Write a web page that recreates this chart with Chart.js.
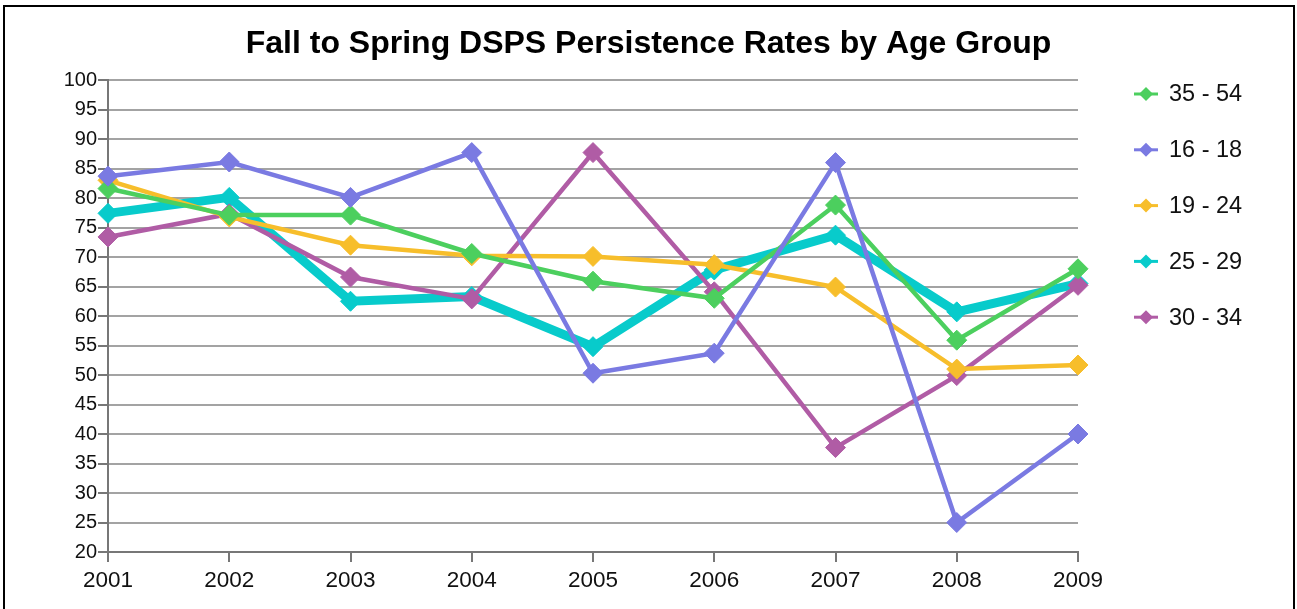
<!DOCTYPE html>
<html>
<head>
<meta charset="utf-8">
<script src="https://cdn.jsdelivr.net/npm/chart.js@4.4.1/dist/chart.umd.min.js"></script>
<style>
  html, body { margin: 0; padding: 0; background: #fff; }
  #wrap { position: relative; width: 1297px; height: 609px; overflow: hidden; }
  #frame { position: absolute; left: 3px; top: 5px; width: 1292px; height: 700px; border: 2px solid #000; box-sizing: border-box; pointer-events: none; }
  canvas { position: absolute; left: 0; top: 0; }
</style>
</head>
<body>
<div id="wrap">
  <canvas id="c" width="1297" height="609"></canvas>
  <div id="frame"></div>
</div>
<script>
const years = ['2001','2002','2003','2004','2005','2006','2007','2008','2009'];
const yTicks = [20,25,30,35,40,45,50,55,60,65,70,75,80,85,90,95,100];
const seriesNames = ['35 - 54','16 - 18','19 - 24','25 - 29','30 - 34'];
const age35to54 = [81.6, 77.1, 77.1, 70.6, 65.9, 63.0, 78.8, 55.9, 68.0];
const age16to18 = [83.7, 86.1, 80.1, 87.7, 50.3, 53.7, 86.0, 25.0, 40.0];
const age19to24 = [83.0, 76.8, 72.0, 70.2, 70.1, 68.7, 64.9, 51.0, 51.7];
const age25to29 = [77.4, 80.1, 62.5, 63.3, 54.8, 67.8, 73.7, 60.7, 65.5];
const age30to34 = [73.4, 77.3, 66.6, 62.9, 87.7, 64.1, 37.7, 49.9, 65.2];
const colors = ['#4ccf5e', '#7a7ae2', '#f7be2b', '#08cbcb', '#b05ca5'];

const FONT = '"Liberation Sans", Arial, sans-serif';
const values = [age35to54, age16to18, age19to24, age25to29, age30to34];
const widths = [4.5, 4.5, 4.5, 9, 4.5];
const order = [1, 0, 2, 4, 3];
const datasets = values.map((v, i) => ({
  label: seriesNames[i],
  data: v,
  borderColor: colors[i],
  backgroundColor: colors[i],
  borderWidth: widths[i],
  pointStyle: 'rectRot',
  pointRadius: 10,
  pointBorderWidth: 1,
  pointHoverRadius: 10,
  tension: 0,
  order: order[i],
  yAxisID: 'y'
}));

const customLegend = {
  id: 'customLegend',
  afterDraw(chart) {
    const ctx = chart.ctx;
    ctx.save();
    seriesNames.forEach((name, i) => {
      const y = 94 + i * 55.8;
      ctx.strokeStyle = colors[i];
      ctx.lineWidth = 3;
      ctx.beginPath();
      ctx.moveTo(1134, y);
      ctx.lineTo(1158, y);
      ctx.stroke();
      ctx.fillStyle = colors[i];
      ctx.beginPath();
      ctx.moveTo(1146, y - 7);
      ctx.lineTo(1153, y);
      ctx.lineTo(1146, y + 7);
      ctx.lineTo(1139, y);
      ctx.closePath();
      ctx.fill();
      ctx.fillStyle = '#111';
      ctx.font = '23.5px ' + FONT;
      ctx.textBaseline = 'middle';
      ctx.textAlign = 'left';
      ctx.fillText(name, 1169, y + 1);
    });
    ctx.restore();
  }
};

new Chart(document.getElementById('c'), {
  type: 'line',
  data: { labels: years, datasets },
  options: {
    responsive: false,
    animation: false,
    events: [],
    layout: { padding: { left: 0, right: 0, top: 4, bottom: 0 } },
    plugins: {
      legend: { display: false },
      tooltip: { enabled: false },
      title: {
        display: true,
        text: 'Fall to Spring DSPS Persistence Rates by Age Group',
        color: '#000',
        font: { family: FONT, size: 32, weight: 'bold', lineHeight: 1.2 },
        padding: { top: 21, bottom: 16.6 }
      }
    },
    scales: {
      x: {
        offset: false,
        grid: { display: true, drawOnChartArea: false, drawTicks: true, tickLength: 10, color: '#777', lineWidth: 2 },
        border: { display: true, color: '#777', width: 2 },
        ticks: { color: '#111', font: { family: FONT, size: 22.5 }, padding: 5, maxRotation: 0, autoSkip: false },
        afterFit(scale) { scale.height = 57; }
      },
      y: {
        position: 'left',
        min: 20, max: 100,
        afterBuildTicks(scale) { scale.ticks = yTicks.map(v => ({ value: v })); },
        grid: { color: '#a3a3a3', lineWidth: 2, tickLength: 10, drawTicks: true, tickColor: '#777' },
        border: { display: true, color: '#777', width: 2 },
        ticks: { color: '#111', font: { family: FONT, size: 20 }, padding: 1, autoSkip: false },
        afterFit(scale) { scale.width = 108; }
      },
      legendSpace: {
        position: 'right',
        type: 'linear',
        min: 0, max: 1,
        grid: { display: false, drawTicks: false },
        border: { display: false },
        ticks: { display: false },
        afterFit(scale) { scale.width = 219; }
      }
    }
  },
  plugins: [customLegend]
});
</script>
</body>
</html>
